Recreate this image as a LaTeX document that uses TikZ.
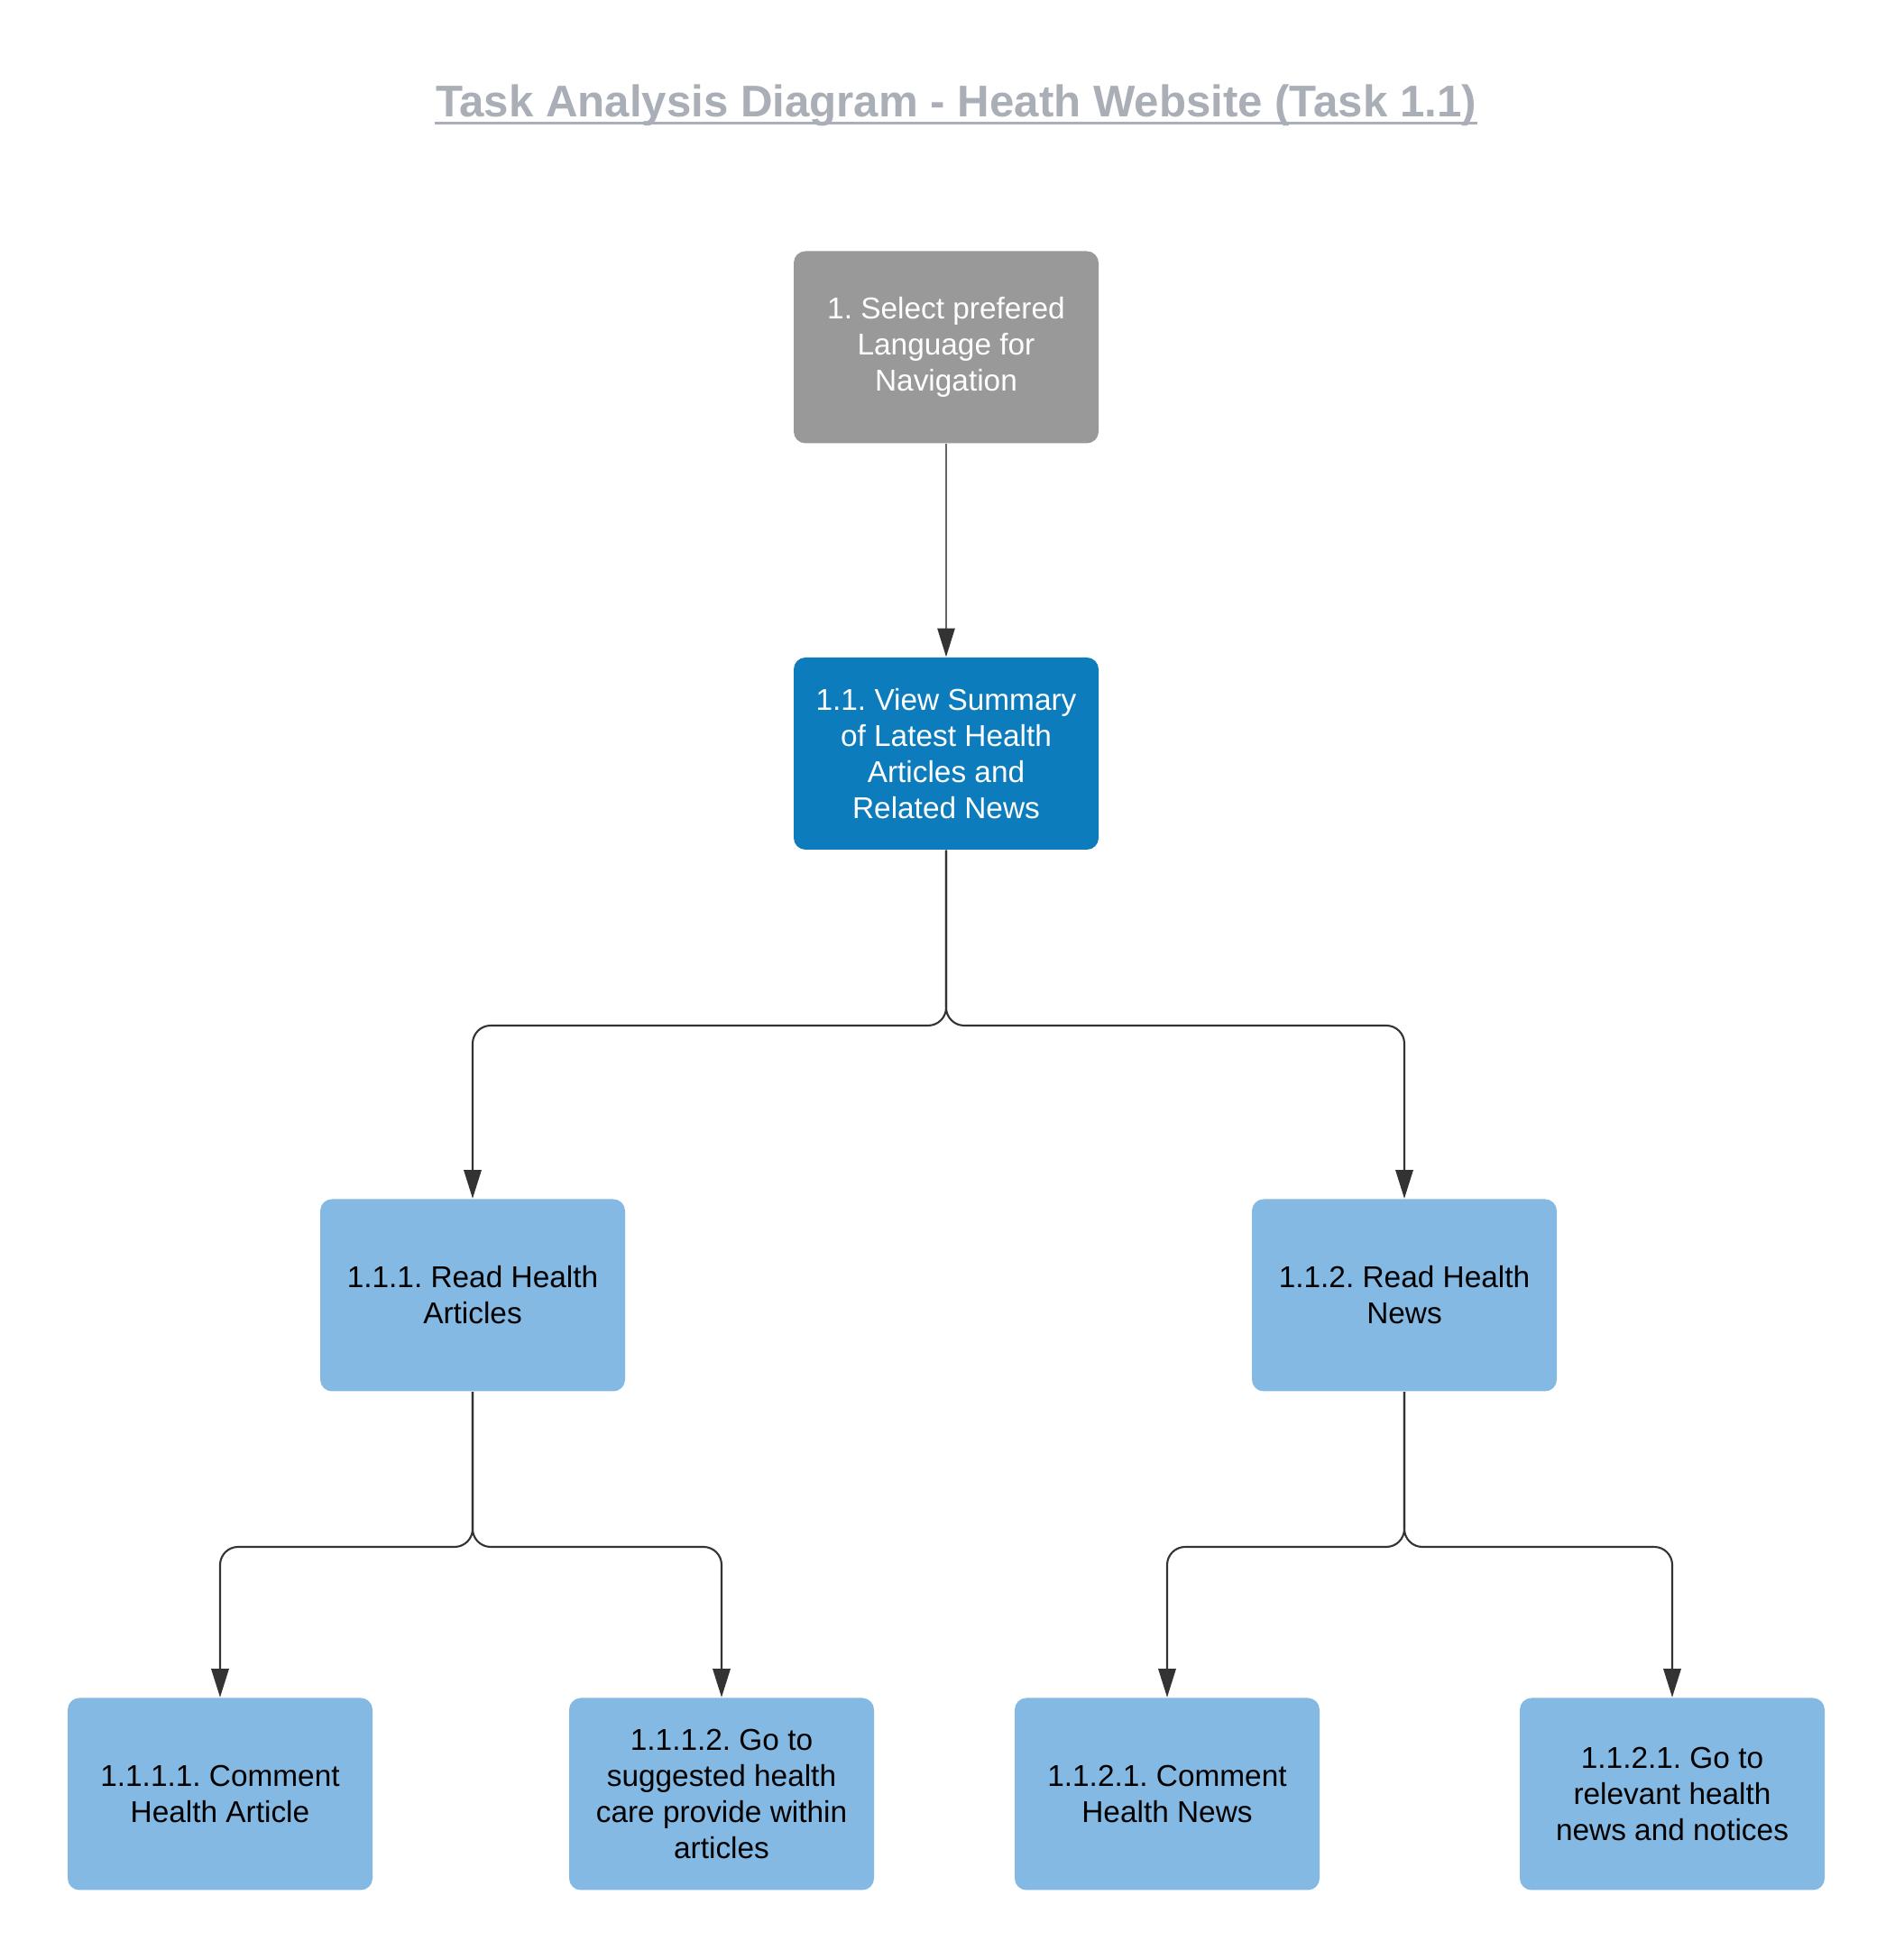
\documentclass[tikz,border=0pt]{standalone}
\usepackage{fontspec}
\setmainfont{Liberation Sans}
\frenchspacing
\usetikzlibrary{arrows.meta}
\definecolor{titlegray}{HTML}{A9AEB7}
\definecolor{boxgray}{HTML}{999999}
\definecolor{boxdark}{HTML}{0C7CBC}
\definecolor{boxlight}{HTML}{84B9E3}
\definecolor{linegray}{HTML}{333333}

\begin{document}
\begin{tikzpicture}[
    task/.style={rounded corners=0.13cm, minimum width=3.38cm, minimum height=2.13cm,
                 align=center, inner sep=2pt, font=\fontsize{9.5}{11.4}\selectfont},
    topbox/.style={task, fill=boxgray, text=white},
    midbox/.style={task, fill=boxdark, text=white},
    leafbox/.style={task, fill=boxlight, text=black},
    link/.style={linegray, line width=0.6pt, rounded corners=0.2cm, -{Triangle[length=9pt,width=5.5pt,color=linegray]}}
  ]
    \useasboundingbox (0,0) rectangle (21,21.73);

    % title
    \node[anchor=base, inner sep=0, text=titlegray, font=\fontsize{14}{16}\selectfont\bfseries] (Title) at (10.60,20.43) {Task Analysis Diagram - Heath Website (Task 1.1)};
    \draw[titlegray, line width=1pt] ([yshift=-1.8pt]Title.base west) -- ([yshift=-1.8pt]Title.base east);

    % tasks
    \node[topbox] (Lang) at (10.49,17.88) {1. Select prefered\\ Language for\\ Navigation};
    \node[midbox] (Summary) at (10.49,13.375) {1.1. View Summary\\ of Latest Health\\ Articles and\\ Related News};
    \node[leafbox] (Articles) at (5.24,7.37) {1.1.1. Read Health\\ Articles};
    \node[leafbox] (News) at (15.57,7.37) {1.1.2. Read Health\\ News};
    \node[leafbox] (CommentArt) at (2.44,1.84) {1.1.1.1. Comment\\ Health Article};
    \node[leafbox] (Provider) at (8.00,1.84) {1.1.1.2. Go to\\ suggested health\\ care provide within\\ articles};
    \node[leafbox] (CommentNews) at (12.94,1.84) {1.1.2.1. Comment\\ Health News};
    \node[leafbox] (Notices) at (18.54,1.84) {1.1.2.1. Go to\\ relevant health\\ news and notices};

    % junctions
    \coordinate (SplitA) at (10.49,10.36);
    \coordinate (SplitB) at (5.24,4.58);
    \coordinate (SplitC) at (15.57,4.58);

    % connectors
    \draw[link, line width=0.4pt, draw=black!60] (Lang) -- (Summary);
    \draw[link] (Summary.south) -- (SplitA) -| (Articles.north);
    \draw[link] (Summary.south) -- (SplitA) -| (News.north);
    \draw[link] (Articles.south) -- (SplitB) -| (CommentArt.north);
    \draw[link] (Articles.south) -- (SplitB) -| (Provider.north);
    \draw[link] (News.south) -- (SplitC) -| (CommentNews.north);
    \draw[link] (News.south) -- (SplitC) -| (Notices.north);
\end{tikzpicture}
\end{document}
